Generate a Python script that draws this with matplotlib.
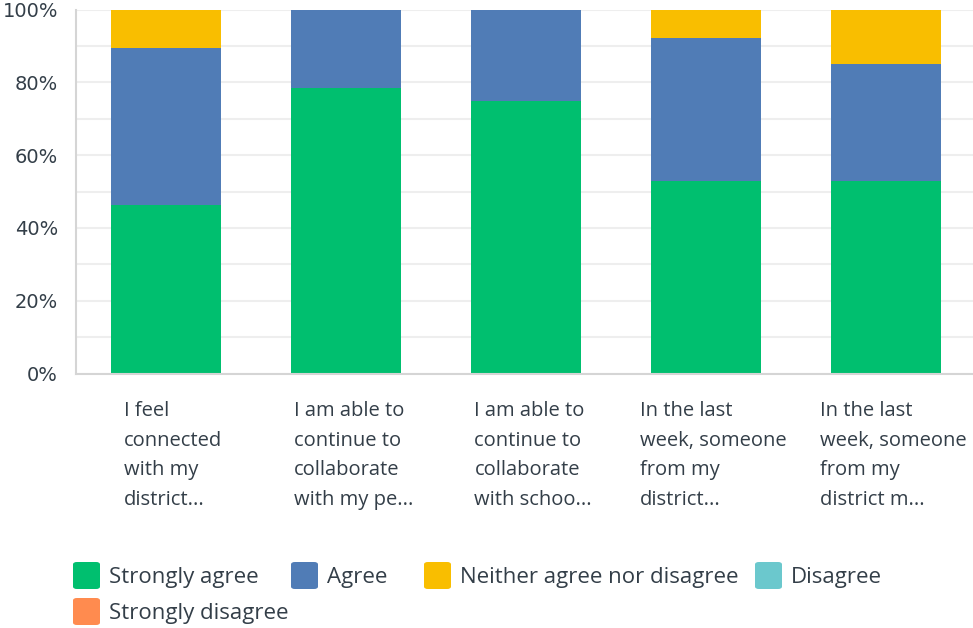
import matplotlib.pyplot as plt
from matplotlib.patches import FancyBboxPatch
from matplotlib.ticker import MultipleLocator, FuncFormatter
import numpy as np

questions = [
    "I feel\nconnected\nwith my\ndistrict...",
    "I am able to\ncontinue to\ncollaborate\nwith my pe...",
    "I am able to\ncontinue to\ncollaborate\nwith schoo...",
    "In the last\nweek, someone\nfrom my\ndistrict...",
    "In the last\nweek, someone\nfrom my\ndistrict m...",
]
series_names = ["Strongly agree", "Agree", "Neither agree nor disagree",
                "Disagree", "Strongly disagree"]
strongly_agree = [46.4, 78.3, 75.0, 52.8, 52.8]
agree = [42.9, 21.7, 25.0, 39.5, 32.1]
neither = [10.7, 0.0, 0.0, 7.7, 15.1]
disagree = [0.0, 0.0, 0.0, 0.0, 0.0]
strongly_disagree = [0.0, 0.0, 0.0, 0.0, 0.0]
y_ticks = [0, 20, 40, 60, 80, 100]

colors = ["#00BF6F", "#507CB6", "#F9BE00", "#6BC8CD", "#FF8B4F"]
TEXT = "#333E48"
FONT = "Open Sans"

fig = plt.figure(figsize=(9.73, 6.28), dpi=100)
ax = fig.add_axes([76 / 973, (628 - 373.5) / 628, 900 / 973, 364 / 628])

x = np.arange(len(questions))
bottom = np.zeros(len(questions))
for vals, col in zip([strongly_agree, agree, neither, disagree, strongly_disagree], colors):
    ax.bar(x, vals, width=0.611, bottom=bottom, color=col, zorder=2)
    bottom += np.array(vals)

ax.set_xlim(-0.5, 4.5)
ax.set_ylim(0, 100)
ax.set_yticks(y_ticks)
ax.yaxis.set_minor_locator(MultipleLocator(10))
ax.yaxis.set_major_formatter(FuncFormatter(lambda v, p: f"{v:.0f}%"))
ax.grid(axis="y", which="both", color="#EEEEEE", linewidth=1.5, zorder=0)
ax.tick_params(axis="y", which="both", length=0, pad=13, labelsize=14,
               labelcolor=TEXT, labelfontfamily="DejaVu Sans")
ax.set_xticks([])
for s in ["top", "right"]:
    ax.spines[s].set_visible(False)
for s in ["left", "bottom"]:
    ax.spines[s].set_color("#D5D5D5")
    ax.spines[s].set_linewidth(1.5)

for i, q in enumerate(questions):
    ax.text(i + 0.04, -7.6, q, ha="center", va="top", multialignment="left",
            fontsize=14.5, color=TEXT, family=FONT, linespacing=1.63,
            transform=ax.transData, clip_on=False)

# legend laid out like the original flow layout
legend_pos = [(72, 561), (290, 561), (423, 561), (754, 561), (72, 597)]
for (px, py), name, col in zip(legend_pos, series_names, colors):
    sq = FancyBboxPatch(((px + 1) / 973, (628 - py - 28) / 628), 27 / 973, 27 / 628,
                        boxstyle="round,pad=0,rounding_size=0.004",
                        transform=fig.transFigure, facecolor=col, edgecolor="none")
    fig.patches.append(sq)
    fig.text((px + 37) / 973, (628 - py - 16) / 628, name, ha="left", va="center",
             fontsize=16, color=TEXT, family=FONT)

fig.savefig("out.png", dpi=100)
